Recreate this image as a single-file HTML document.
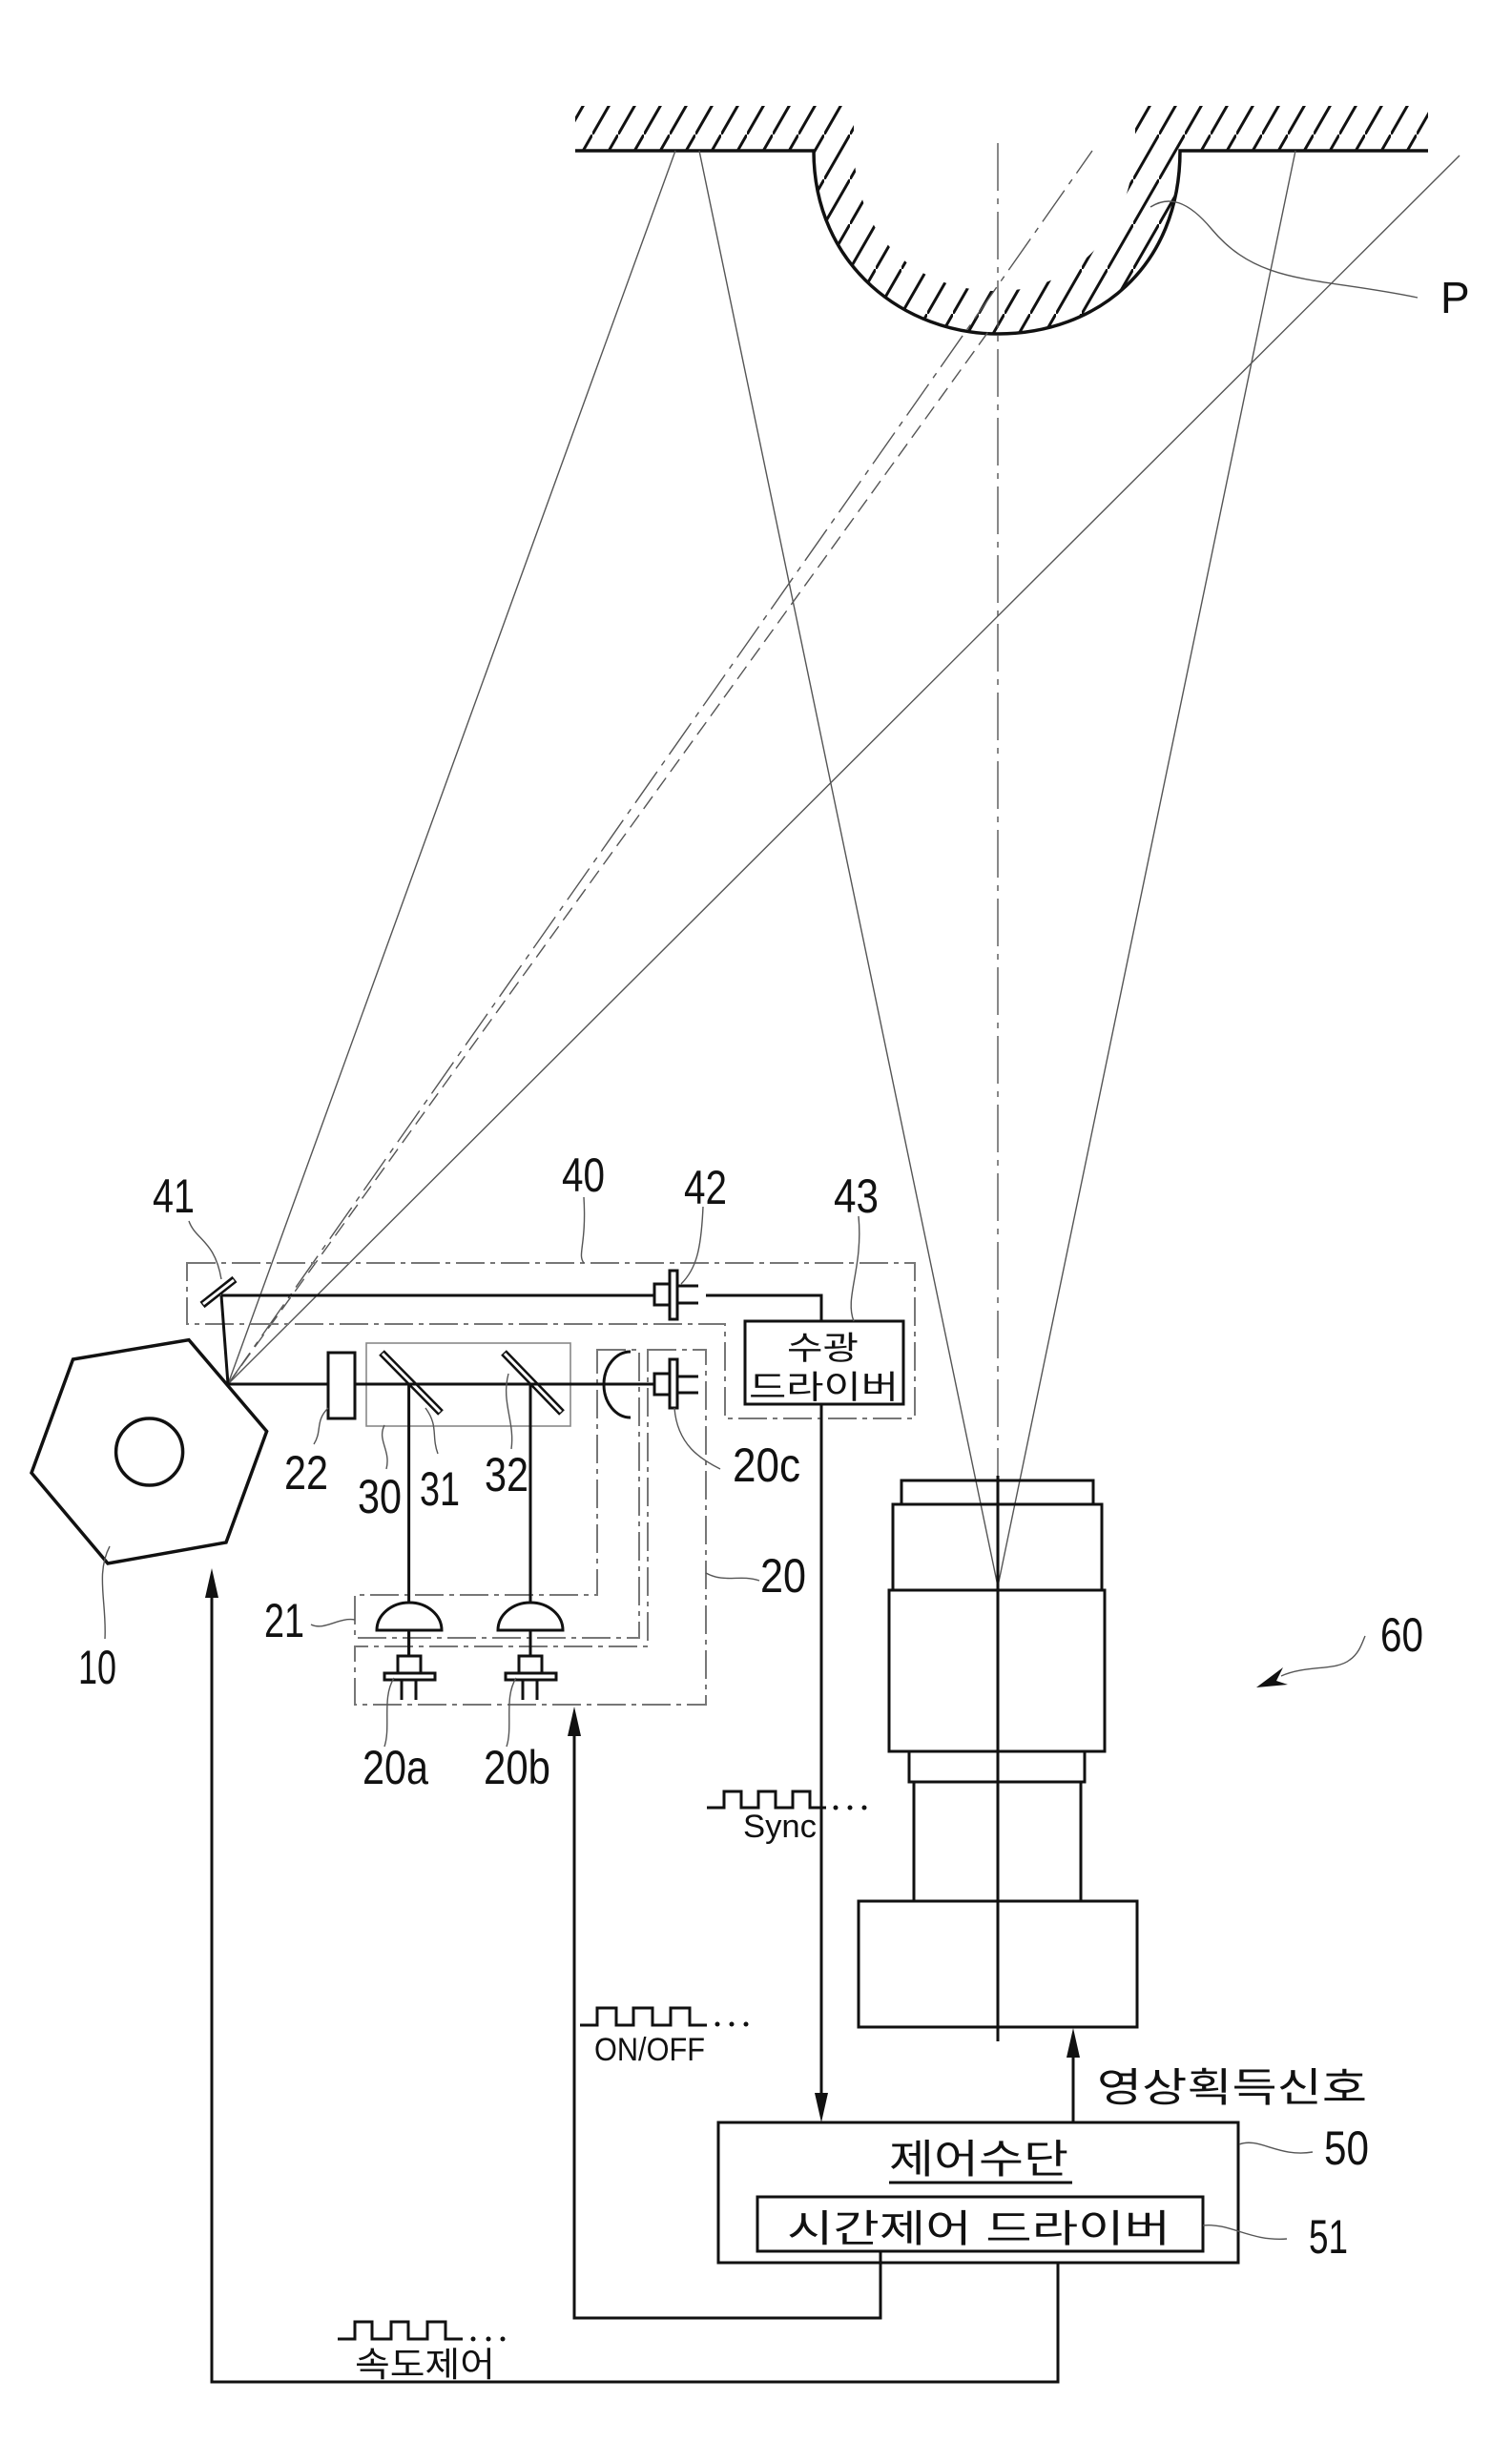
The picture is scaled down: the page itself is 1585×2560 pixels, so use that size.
<!DOCTYPE html>
<html><head><meta charset="utf-8"><style>
html,body{margin:0;padding:0;background:#fff}
svg{display:block}
text{font-family:"Liberation Sans","Noto Sans CJK KR",sans-serif;fill:#111}
</style></head><body>
<svg width="1585" height="2560" viewBox="0 0 1585 2560" xmlns="http://www.w3.org/2000/svg">
<defs>
<pattern id="h" patternUnits="userSpaceOnUse" width="27" height="47">
<line x1="0" y1="47" x2="27" y2="0" stroke="#111" stroke-width="3"/>
</pattern>
</defs>

<rect x="603" y="111" width="250" height="47" fill="url(#h)"/>
<rect x="1237" y="111" width="260" height="47" fill="url(#h)"/>
<path d="M853,111 L895,111 L895,160 C900,255 965,305 1046,305 C1120,305 1190,250 1190,111 L1237,111 L1237,158 C1237,280 1150,350 1046,350 C950,350 853,280 853,158 Z" fill="url(#h)"/>
<path d="M895,150 C900,255 965,305 1046,305 C1120,305 1190,250 1190,140 L1190,111 L895,111 Z" fill="#fff"/>
<path d="M603,158 L853,158 C853,280 950,350 1046,350 C1150,350 1237,280 1237,158 L1497,158" fill="none" stroke="#111" stroke-width="3.5"/>

<g stroke="#555" stroke-width="1.4" fill="none">
<line x1="239" y1="1451" x2="708" y2="158"/>
<line x1="239" y1="1451" x2="1530" y2="163"/>
<line x1="733" y1="158" x2="1046" y2="1663"/>
<line x1="1358" y1="158" x2="1046" y2="1663"/>
<line x1="239" y1="1451" x2="1145" y2="158" stroke-dasharray="40 8 6 8"/>
<line x1="239" y1="1451" x2="1038" y2="345" stroke-dasharray="16 8"/>
<line x1="1046" y1="150" x2="1046" y2="1547" stroke-dasharray="50 8 6 8"/>
</g>
<path d="M1206,217 C1225,205 1245,210 1270,240 C1320,300 1380,290 1486,312" fill="none" stroke="#555" stroke-width="1.4"/>
<text x="1510" y="328" font-size="46">P</text>

<g fill="none" stroke="#777" stroke-width="2" stroke-dasharray="30 6 5 6">
<path d="M196,1324 L959,1324 L959,1487 L760,1487 L760,1388 L196,1388 Z"/>
<path d="M626,1415 L670,1415 L670,1717 L372,1717 L372,1672 L626,1672 Z"/>
<path d="M679,1415 L740,1415 L740,1787 L372,1787 L372,1726 L679,1726 Z"/>
</g>
<rect x="384" y="1408" width="214" height="87" fill="none" stroke="#888" stroke-width="1.6"/>

<polygon points="76.5,1425 198,1404.6 279.6,1500.5 237,1617 113,1639 33,1544" fill="none" stroke="#111" stroke-width="3.5"/>
<circle cx="156.6" cy="1522" r="35" fill="none" stroke="#111" stroke-width="3.5"/>

<g stroke="#111" stroke-width="3" fill="none">
<line x1="232" y1="1358" x2="239" y2="1451"/>
<line x1="232" y1="1358" x2="686" y2="1358"/>
<polyline points="740,1358 861,1358 861,1385"/>
<line x1="239" y1="1451" x2="686" y2="1451"/>
<line x1="428.6" y1="1451" x2="428.6" y2="1736"/>
<line x1="556" y1="1451" x2="556" y2="1736"/>
<line x1="861" y1="1472" x2="861" y2="2200"/>
</g>

<g stroke-linecap="butt">
<line x1="212" y1="1368" x2="246" y2="1341" stroke="#111" stroke-width="8"/>
<line x1="213" y1="1367" x2="245" y2="1342" stroke="#fff" stroke-width="3"/>
<line x1="400" y1="1418" x2="462" y2="1481" stroke="#111" stroke-width="8"/>
<line x1="401" y1="1419" x2="461" y2="1480" stroke="#fff" stroke-width="3"/>
<line x1="528" y1="1418" x2="589" y2="1481" stroke="#111" stroke-width="8"/>
<line x1="529" y1="1419" x2="588" y2="1480" stroke="#fff" stroke-width="3"/>
</g>
<line x1="239" y1="1451" x2="686" y2="1451" stroke="#111" stroke-width="3"/>

<rect x="344" y="1418" width="28" height="69" fill="#fff" stroke="#111" stroke-width="3"/>

<path d="M661,1417 A28,34.5 0 0 0 661,1486" fill="none" stroke="#111" stroke-width="3"/>

<g fill="#fff" stroke="#111" stroke-width="3">
<rect x="686" y="1346" width="20" height="22"/>
<rect x="702" y="1332" width="8" height="51"/>
<rect x="686" y="1440" width="20" height="22"/>
<rect x="702" y="1425" width="8" height="51"/>
</g>
<g stroke="#111" stroke-width="3">
<line x1="710" y1="1348" x2="732" y2="1348"/><line x1="710" y1="1366" x2="732" y2="1366"/>
<line x1="710" y1="1443" x2="732" y2="1443"/><line x1="710" y1="1460" x2="732" y2="1460"/>
</g>

<rect x="781" y="1385" width="166" height="87" fill="#fff" stroke="#111" stroke-width="3"/>
<text x="825" y="1425" font-size="34" textLength="75" lengthAdjust="spacingAndGlyphs">수광</text>
<text x="785" y="1466" font-size="34" textLength="157" lengthAdjust="spacingAndGlyphs">드라이버</text>

<g fill="#fff" stroke="#111" stroke-width="3">
<path d="M395,1709 A34,29 0 0 1 463,1709 Z"/>
<path d="M522,1709 A34,29 0 0 1 590,1709 Z"/>
<rect x="417" y="1736" width="24" height="18"/>
<rect x="403" y="1754" width="53" height="7"/>
<rect x="544" y="1736" width="24" height="18"/>
<rect x="530" y="1754" width="53" height="7"/>
</g>
<g stroke="#111" stroke-width="3">
<line x1="428.6" y1="1709" x2="428.6" y2="1736"/>
<line x1="556" y1="1709" x2="556" y2="1736"/>
<line x1="421" y1="1761" x2="421" y2="1782"/><line x1="436" y1="1761" x2="436" y2="1782"/>
<line x1="548" y1="1761" x2="548" y2="1782"/><line x1="563" y1="1761" x2="563" y2="1782"/>
</g>

<g fill="none" stroke="#111" stroke-width="3">
<rect x="945" y="1552" width="201" height="25"/>
<rect x="936" y="1577" width="219" height="90"/>
<rect x="932" y="1667" width="226" height="169"/>
<rect x="953" y="1836" width="184" height="32"/>
<rect x="958" y="1868" width="175" height="125"/>
<rect x="900" y="1993" width="292" height="132"/>
<line x1="1046" y1="1547" x2="1046" y2="2140"/>
</g>

<g fill="none" stroke="#111" stroke-width="3">
<rect x="753" y="2225" width="545" height="147"/>
<rect x="794" y="2303" width="467" height="57"/>
<polyline points="222,1660 222,2497 1109,2497 1109,2372"/>
<polyline points="602,1805 602,2430 923,2430 923,2360"/>
<line x1="1125" y1="2225" x2="1125" y2="2150"/>
<line x1="932" y1="2288" x2="1124" y2="2288"/>
</g>
<g fill="#111">
<polygon points="222,1644 215,1675 229,1675"/>
<polygon points="602,1789 595,1820 609,1820"/>
<polygon points="861,2225 854,2194 868,2194"/>
<polygon points="1125,2126 1118,2157 1132,2157"/>
<polygon points="1317,1769 1345,1748 1338,1762 1350,1766"/>
</g>
<path d="M1343,1757 C1370,1745 1400,1752 1415,1740 C1425,1733 1428,1722 1431,1715" fill="none" stroke="#555" stroke-width="1.4"/>
<text x="1447" y="1731" font-size="50" textLength="45" lengthAdjust="spacingAndGlyphs">60</text>

<text x="1150" y="2203" font-size="42" textLength="283" lengthAdjust="spacingAndGlyphs">영상획득신호</text>
<text x="932" y="2278" font-size="42" textLength="188" lengthAdjust="spacingAndGlyphs">제어수단</text>
<text x="825" y="2350" font-size="40" textLength="402" lengthAdjust="spacingAndGlyphs">시간제어 드라이버</text>

<g fill="none" stroke="#111" stroke-width="3">
<polyline points="741,1895 759,1895 759,1878 777,1878 777,1895 795,1895 795,1878 813,1878 813,1895 831,1895 831,1878 849,1878 849,1895 866,1895"/>
<polyline points="608,2123 626,2123 626,2105 646,2105 646,2123 664,2123 664,2105 684,2105 684,2123 703,2123 703,2105 723,2105 723,2123 741,2123"/>
<polyline points="354,2452 372,2452 372,2434 390,2434 390,2452 410,2452 410,2434 428,2434 428,2452 448,2452 448,2434 467,2434 467,2452 485,2452"/>
</g>
<g fill="#111">
<circle cx="876" cy="1895" r="2.5"/><circle cx="891" cy="1895" r="2.5"/><circle cx="906" cy="1895" r="2.5"/>
<circle cx="752" cy="2122" r="2.5"/><circle cx="767" cy="2122" r="2.5"/><circle cx="782" cy="2122" r="2.5"/>
<circle cx="496" cy="2452" r="2.5"/><circle cx="512" cy="2452" r="2.5"/><circle cx="527" cy="2452" r="2.5"/>
</g>
<text x="779" y="1926" font-size="34" textLength="77" lengthAdjust="spacingAndGlyphs">Sync</text>
<text x="623" y="2160" font-size="34" textLength="116" lengthAdjust="spacingAndGlyphs">ON/OFF</text>
<text x="372" y="2491" font-size="36" textLength="147" lengthAdjust="spacingAndGlyphs">속도제어</text>

<g fill="none" stroke="#555" stroke-width="1.4">
<path d="M1299,2248 C1320,2240 1340,2262 1376,2256"/>
<path d="M1261,2333 C1290,2330 1310,2350 1349,2347"/>
<path d="M115,1621 C100,1650 112,1680 110,1718"/>
<path d="M344,1476 C330,1490 338,1500 329,1514"/>
<path d="M403,1494 C395,1510 410,1520 405,1540"/>
<path d="M446,1476 C460,1495 452,1505 459,1524"/>
<path d="M533,1440 C525,1470 540,1490 536,1519"/>
<path d="M326,1703 C340,1710 355,1695 372,1698"/>
<path d="M413,1759 C400,1780 410,1810 403,1831"/>
<path d="M541,1759 C528,1780 538,1810 531,1831"/>
<path d="M707,1476 C710,1515 735,1530 755,1540"/>
<path d="M740,1649 C760,1660 775,1650 796,1657"/>
<path d="M198,1280 C205,1300 225,1300 232,1341"/>
<path d="M612,1324 C605,1315 615,1305 612,1255"/>
<path d="M714,1346 C730,1330 735,1310 737,1265"/>
<path d="M895,1385 C885,1360 905,1330 900,1275"/>
</g>

<g font-size="50">
<text x="589" y="1249" textLength="45" lengthAdjust="spacingAndGlyphs">40</text>
<text x="160" y="1271" textLength="44" lengthAdjust="spacingAndGlyphs">41</text>
<text x="717" y="1262" textLength="45" lengthAdjust="spacingAndGlyphs">42</text>
<text x="874" y="1271" textLength="47" lengthAdjust="spacingAndGlyphs">43</text>
<text x="768" y="1553" textLength="71" lengthAdjust="spacingAndGlyphs">20c</text>
<text x="797" y="1669" textLength="48" lengthAdjust="spacingAndGlyphs">20</text>
<text x="298" y="1561" textLength="46" lengthAdjust="spacingAndGlyphs">22</text>
<text x="375" y="1586" textLength="46" lengthAdjust="spacingAndGlyphs">30</text>
<text x="440" y="1578" textLength="42" lengthAdjust="spacingAndGlyphs">31</text>
<text x="508" y="1563" textLength="46" lengthAdjust="spacingAndGlyphs">32</text>
<text x="277" y="1716" textLength="42" lengthAdjust="spacingAndGlyphs">21</text>
<text x="82" y="1765" textLength="40" lengthAdjust="spacingAndGlyphs">10</text>
<text x="380" y="1870" textLength="69" lengthAdjust="spacingAndGlyphs">20a</text>
<text x="507" y="1870" textLength="70" lengthAdjust="spacingAndGlyphs">20b</text>
<text x="1388" y="2269" textLength="47" lengthAdjust="spacingAndGlyphs">50</text>
<text x="1372" y="2362" textLength="41" lengthAdjust="spacingAndGlyphs">51</text>
</g>
</svg>
</body></html>
